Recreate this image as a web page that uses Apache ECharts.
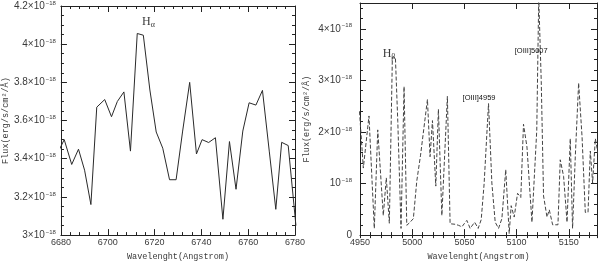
<!DOCTYPE html>
<html><head><meta charset="utf-8">
<script src="https://cdn.jsdelivr.net/npm/echarts@6/dist/echarts.min.js"></script>
<style>html,body{margin:0;padding:0;background:#fff}#c{width:600px;height:266px}</style>
</head><body><div id="c"></div>
<script>
// ---- data (wavelength in Angstrom, flux in units of 1e-18 erg/s/cm2/A) ----
const leftWave = [6679.0, 6681.4, 6684.6, 6687.5, 6690.1, 6692.8, 6695.3, 6698.7, 6701.6, 6704.1, 6706.9, 6709.7, 6712.6, 6715.2, 6718.0, 6720.7, 6723.5, 6726.4, 6729.2, 6732.0, 6735.0, 6737.9, 6740.3, 6743.1, 6746.0, 6749.2, 6752.0, 6754.8, 6757.7, 6760.4, 6763.3, 6766.1, 6769.0, 6771.8, 6774.3, 6777.1, 6780.4];
const leftFlux = [3.44, 3.50, 3.37, 3.45, 3.34, 3.16, 3.67, 3.71, 3.62, 3.70, 3.75, 3.44, 4.056, 4.047, 3.76, 3.54, 3.455, 3.29, 3.29, 3.545, 3.80, 3.425, 3.50, 3.485, 3.51, 3.083, 3.49, 3.24, 3.545, 3.693, 3.681, 3.758, 3.44, 3.135, 3.486, 3.469, 3.05];

const rightWave = [4949.5, 4953.2, 4958.6, 4963.7, 4967.0, 4972.3, 4975.2, 4978.1, 4981.0, 4983.9, 4986.2, 4989.3, 4992.2, 4994.8, 4998.0, 5001.1, 5004.4, 5008.0, 5014.6, 5017.1, 5019.4, 5022.6, 5025.1, 5028.4, 5033.7, 5036.3, 5041.1, 5044.3, 5047.6, 5049.8, 5052.3, 5055.5, 5059.8, 5063.2, 5066.1, 5068.9, 5073.1, 5076.3, 5079.5, 5082.7, 5085.9, 5089.6, 5092.9, 5094.8, 5097.7, 5100.9, 5104.0, 5106.6, 5109.9, 5114.7, 5119.3, 5121.2, 5123.6, 5125.8, 5129.1, 5131.3, 5134.5, 5139.6, 5141.8, 5145.0, 5148.3, 5151.4, 5153.6, 5156.2, 5159.4, 5162.7, 5165.8, 5168.4, 5170.6, 5172.8, 5175.4, 5178.3];
const rightFlux = [2.40, 1.30, 2.31, 0.13, 2.04, 0.38, 1.11, 0.23, 3.45, 3.45, 2.20, 0.13, 2.88, 0.19, 0.25, 0.32, 1.05, 1.55, 2.63, 1.52, 2.22, 0.95, 2.44, 0.38, 2.69, 0.22, 0.21, 0.19, 0.16, 0.22, 0.285, 0.13, 0.25, 0.13, 0.30, 1.00, 2.55, 1.01, 0.25, 0.13, 0.32, 1.27, 0.03, 0.57, 0.35, 0.81, 0.73, 2.15, 1.71, 0.25, 2.03, 4.60, 2.98, 0.76, 0.35, 0.49, 0.20, 0.20, 1.46, 1.14, 0.25, 1.87, 0.13, 1.52, 2.95, 1.90, 0.44, 0.44, 1.63, 1.01, 1.87, 1.55];

// axis ranges / tick steps
const leftX = {min: 6680, max: 6780, major: 20, minor: 4};
const leftY = {min: 3.0, max: 4.2, major: 0.2, minor: 0.05};
const rightX = {min: 4950, max: 5177, major: 50, minor: 10};
const rightY = {min: 0, max: 4.5, major: 1, minor: 0.2};

// line annotations
const leftNotes = [{text: '{h|H}{s|α}', wave: 6717.4, flux: 4.118}];
const rightNotes = [
  {text: '{h|H}{s|β}', wave: 4977.8, flux: 3.52},
  {text: '{t|[OIII]4959}', wave: 5064.0, flux: 2.66},
  {text: '{t|[OIII]5007}', wave: 5114.0, flux: 3.57}
];

const xName = 'Wavelenght(Angstrom)';
const yName = 'Flux(erg/s/cm²/Å)';

// ---- helpers ----
const AX = '#222', TXT = '#3a3a3a';
const LBL = 'Liberation Sans';
const MONO = 'Liberation Mono';
function isMul(v, step) { return Math.abs(v / step - Math.round(v / step)) < 1e-6; }
const rich = {
  m: {fontSize: 10, fontFamily: LBL, color: TXT, lineHeight: 12},
  e: {fontSize: 6, fontFamily: LBL, color: TXT, verticalAlign: 'top', lineHeight: 12, padding: [0, 0, 5, 1]}
};
function axes(dim, grid, r, fmt, name, nameGap, margin) {
  const pos = dim === 'x' ? ['bottom', 'top'] : ['left', 'right'];
  const out = [];
  pos.forEach((p, i) => {
    out.push({
      type: 'value', gridIndex: grid, position: p, min: r.min, max: r.max, interval: r.major,
      axisLine: {show: true, onZero: false, lineStyle: {color: AX, width: 1}},
      axisTick: {show: true, inside: true, length: 6, lineStyle: {color: AX, width: 1}},
      splitLine: {show: false},
      axisLabel: i === 0 ? {show: true, margin: margin, color: TXT, fontFamily: LBL, fontSize: 9,
        formatter: fmt, rich: rich, showMaxLabel: true} : {show: false},
      name: i === 0 ? name : '', nameLocation: 'middle', nameGap: nameGap,
      nameTextStyle: {fontFamily: MONO, fontSize: 8.5, color: TXT}
    });
  });
  pos.forEach(p => {
    out.push({
      type: 'value', gridIndex: grid, position: p, min: r.min, max: r.max, interval: r.minor,
      axisLine: {show: false}, splitLine: {show: false}, axisLabel: {show: false},
      axisTick: {show: true, inside: true, length: 3, lineStyle: {color: AX, width: 1}}
    });
  });
  return out;
}
const fmtX = step => v => isMul(v, step) ? String(Math.round(v)) : '';
const fmtLeftY = v => {
  if (!isMul(v, leftY.major)) return '';
  const n = Math.round(v * 10) / 10;
  return '{m|' + n + '×10}{e|−18}';
};
const fmtRightY = v => {
  if (!isMul(v, rightY.major)) return '';
  const n = Math.round(v);
  if (n === 0) return '{m|0}';
  if (n === 1) return '{m|10}{e|−18}';
  return '{m|' + n + '×10}{e|−18}';
};
const noteRich = {
  h: {fontFamily: 'Liberation Serif', fontSize: 12, color: TXT, lineHeight: 14},
  s: {fontFamily: 'Liberation Serif', fontSize: 8, color: TXT, verticalAlign: 'bottom', lineHeight: 14, padding: [4, 0, 0, 0]},
  t: {fontFamily: LBL, fontSize: 7.5, color: '#111'}
};
function notes(list) {
  return {
    symbol: 'rect', symbolSize: 0, silent: true, animation: false,
    label: {show: true, position: 'inside', rich: noteRich},
    data: list.map(n => ({coord: [n.wave, n.flux], label: {formatter: n.text}}))
  };
}

const xAxis = [].concat(
  axes('x', 0, leftX, fmtX(leftX.major), xName, 13, 3),
  axes('x', 1, rightX, fmtX(rightX.major), xName, 13, 3)
);
const yAxis = [].concat(
  axes('y', 0, leftY, fmtLeftY, yName, 49, 5),
  axes('y', 1, rightY, fmtRightY, yName, 49, 8)
);

const chart = echarts.init(document.getElementById('c'), null, {renderer: 'canvas'});
chart.setOption({
  animation: false,
  backgroundColor: '#fff',
  grid: [
    {left: 60, right: 305, top: 5, bottom: 26},
    {left: 360, right: 3, top: 3, bottom: 26}
  ],
  xAxis: xAxis,
  yAxis: yAxis,
  series: [
    {
      type: 'line', xAxisIndex: 0, yAxisIndex: 0, showSymbol: false, clip: true,
      data: leftWave.map((w, i) => [w, leftFlux[i]]),
      lineStyle: {color: '#2a2a2a', width: 1},
      markPoint: notes(leftNotes)
    },
    {
      type: 'line', xAxisIndex: 4, yAxisIndex: 4, showSymbol: false, clip: true,
      data: rightWave.map((w, i) => [w, rightFlux[i]]),
      lineStyle: {color: '#444', width: 1, type: [4, 2]},
      markPoint: notes(rightNotes)
    }
  ]
});
</script>
</body></html>
